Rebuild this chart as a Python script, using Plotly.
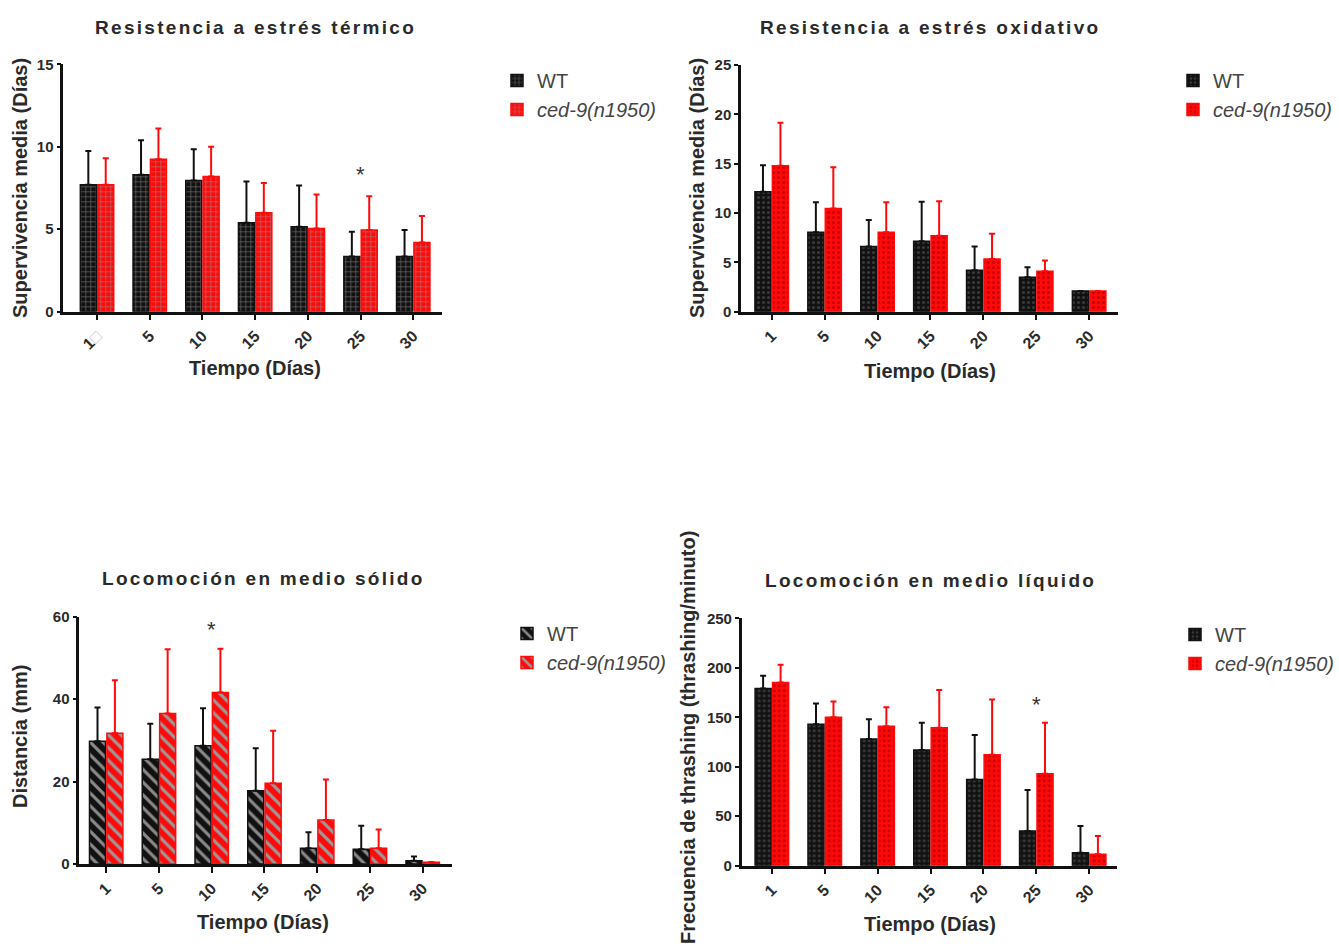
import plotly.graph_objects as go

W, H = 1339, 947

dias = ["1", "5", "10", "15", "20", "25", "30"]
dias_termico = ["1<span style='color:#c8c8c8'>\u25a1</span>", "5", "10", "15", "20", "25", "30"]

# Resistencia a estrés térmico (media, DE)
termico_wt = [7.7, 8.3, 7.95, 5.4, 5.15, 3.35, 3.35]
termico_wt_de = [2.05, 2.1, 1.9, 2.5, 2.5, 1.5, 1.6]
termico_ced9 = [7.7, 9.25, 8.2, 6.0, 5.05, 4.95, 4.2]
termico_ced9_de = [1.6, 1.85, 1.8, 1.8, 2.05, 2.05, 1.6]

# Resistencia a estrés oxidativo
oxid_wt = [12.15, 8.05, 6.6, 7.15, 4.2, 3.5, 2.1]
oxid_wt_de = [2.7, 3.05, 2.7, 4.0, 2.4, 1.0, 0.0]
oxid_ced9 = [14.8, 10.45, 8.05, 7.7, 5.35, 4.1, 2.1]
oxid_ced9_de = [4.35, 4.2, 3.05, 3.5, 2.55, 1.1, 0.0]

# Locomoción en medio sólido (mm)
solido_wt = [29.8, 25.4, 28.7, 17.8, 3.8, 3.6, 0.8]
solido_wt_de = [8.2, 8.6, 9.1, 10.3, 3.9, 5.7, 1.0]
solido_ced9 = [31.7, 36.5, 41.6, 19.6, 10.7, 3.8, 0.4]
solido_ced9_de = [12.9, 15.6, 10.6, 12.7, 9.8, 4.6, 0.1]

# Locomoción en medio líquido (thrashing/minuto)
liquido_wt = [179, 143, 128, 117, 87, 35, 13]
liquido_wt_de = [13, 21, 20, 27.5, 45, 41.5, 27]
liquido_ced9 = [185, 150, 141, 139.5, 112, 93, 11.5]
liquido_ced9_de = [18, 16, 19, 38, 56, 51.5, 18.5]

# Significancia (*): categoría y altura
sig_termico = ("25", 8.3)
sig_solido = ("10", 57)
sig_liquido = ("25", 163)

NEGRO = "#111111"
ROJO = "#ff0a0a"
TXT = "#2a2a2a"
FONT = "Liberation Sans"


def px_x(v):
    return v / W


def px_y(v):
    return 1 - v / H


def espaciado(txt, sp=2.3):
    return f"<span style='letter-spacing:{sp}px'>{txt}</span>"


paneles = [
    dict(n="", cats=dias_termico, wt=termico_wt, wt_de=termico_wt_de, ced=termico_ced9, ced_de=termico_ced9_de,
         xdom=[63.3, 441.7], ybot=311.7, ytop=64.3, ymax=15, dtick=5, xr=[-0.64, 6.54],
         pat=dict(shape="+", size=5, solidity=0.25), fg_wt="#6a6a6a", fg_ced="#b07070",
         titulo="Resistencia a estrés térmico", tx=255, ty=27,
         ytit="Supervivencia media (Días)", ytx=20, yty=188, xtx=255, xty=368,
         leg=(497, 61)),
    dict(n="2", cats=dias, wt=oxid_wt, wt_de=oxid_wt_de, ced=oxid_ced9, ced_de=oxid_ced9_de,
         xdom=[741.0, 1117.7], ybot=311.7, ytop=65.0, ymax=25, dtick=5, xr=[-0.58, 6.54],
         pat=dict(shape=".", size=5, solidity=0.3), fg_wt="#3a3a3a", fg_ced="#c80000",
         titulo="Resistencia a estrés oxidativo", tx=930, ty=27,
         ytit="Supervivencia media (Días)", ytx=697, yty=188, xtx=930, xty=371,
         leg=(1173, 61)),
    dict(n="3", cats=dias, wt=solido_wt, wt_de=solido_wt_de, ced=solido_ced9, ced_de=solido_ced9_de,
         xdom=[79.3, 451.7], ybot=864.0, ytop=616.7, ymax=60, dtick=20, xr=[-0.51, 6.55],
         pat=dict(shape="\\", size=9, solidity=0.35), fg_wt="#8a8a8a", fg_ced="#9a9a9a",
         titulo="Locomoción en medio sólido", tx=263, ty=578,
         ytit="Distancia (mm)", ytx=20, yty=737, xtx=263, xty=922,
         leg=(507, 614)),
    dict(n="4", cats=dias, wt=liquido_wt, wt_de=liquido_wt_de, ced=liquido_ced9, ced_de=liquido_ced9_de,
         xdom=[741.7, 1116.7], ybot=865.7, ytop=618.3, ymax=250, dtick=50, xr=[-0.57, 6.52],
         pat=dict(shape=".", size=5, solidity=0.3), fg_wt="#3a3a3a", fg_ced="#c80000",
         titulo="Locomoción en medio líquido", tx=930, ty=580,
         ytit="Frecuencia de thrashing (thrashing/minuto)", ytx=688, yty=738, xtx=930, xty=924,
         leg=(1175, 615)),
]

fig = go.Figure()
layout = dict(
    width=W, height=H, margin=dict(l=0, r=0, t=0, b=0, autoexpand=False),
    paper_bgcolor="white", plot_bgcolor="white",
    barmode="group", bargap=0.34, bargroupgap=0.08,
    font=dict(family=FONT, color=TXT),
    annotations=[],
)

for p in paneles:
    n = p["n"]
    xa, ya = "x" + n, "y" + n
    leg = "legend" + n
    fig.add_trace(go.Bar(
        x=p["cats"], y=p["wt"], name="WT", xaxis=xa, yaxis=ya, legend=leg, legendgroup="wt" + n,
        marker=dict(color=NEGRO, line=dict(color=NEGRO, width=1.5),
                    pattern=dict(bgcolor=NEGRO, fgcolor=p["fg_wt"], fillmode="replace", **p["pat"])),
        error_y=dict(type="data", symmetric=False, array=p["wt_de"], arrayminus=[0] * 7,
                     color=NEGRO, thickness=2, width=3),
    ))
    fig.add_trace(go.Bar(
        x=p["cats"], y=p["ced"], name="<i>ced-9(n1950)</i>", xaxis=xa, yaxis=ya, legend=leg,
        legendgroup="ced" + n,
        marker=dict(color=ROJO, line=dict(color=ROJO, width=1.5),
                    pattern=dict(bgcolor=ROJO, fgcolor=p["fg_ced"], fillmode="replace", **p["pat"])),
        error_y=dict(type="data", symmetric=False, array=p["ced_de"], arrayminus=[0] * 7,
                     color=ROJO, thickness=2, width=3),
    ))

    xkey = "xaxis" + n
    ykey = "yaxis" + n
    layout[xkey] = dict(
        domain=[px_x(p["xdom"][0]), px_x(p["xdom"][1])], anchor=ya, automargin=False,
        type="category", range=p["xr"], showline=True, linecolor="#111", linewidth=2.5,
        ticks="outside", ticklen=6, tickwidth=2, tickcolor="#111",
        tickangle=-45, showgrid=False, zeroline=False,
        tickfont=dict(family=FONT, size=16, weight="bold", color=TXT),
    )
    layout[ykey] = dict(
        domain=[px_y(p["ybot"]), px_y(p["ytop"])], anchor=xa, automargin=False,
        range=[0, p["ymax"]], dtick=p["dtick"], tick0=0,
        showline=True, linecolor="#111", linewidth=2.5,
        ticks="outside", ticklen=4, tickwidth=2, tickcolor="#111",
        showgrid=False, zeroline=False,
        tickfont=dict(family=FONT, size=15, weight="bold", color=TXT),
    )
    layout[leg] = dict(
        x=px_x(p["leg"][0]), y=px_y(p["leg"][1]), xanchor="left", yanchor="top",
        bgcolor="rgba(0,0,0,0)", font=dict(family=FONT, size=20, color="#444"),
        itemwidth=30, tracegroupgap=0,
    )

    anns = layout["annotations"]
    anns.append(dict(text=espaciado(p["titulo"]), x=px_x(p["tx"]), y=px_y(p["ty"]), xref="paper", yref="paper",
                     showarrow=False, xanchor="center", yanchor="middle",
                     font=dict(family=FONT, size=19, weight="bold", color=TXT)))
    anns.append(dict(text=p["ytit"], x=px_x(p["ytx"]), y=px_y(p["yty"]), xref="paper", yref="paper",
                     showarrow=False, xanchor="center", yanchor="middle", textangle=-90,
                     font=dict(family=FONT, size=20, weight="bold", color=TXT)))
    anns.append(dict(text="Tiempo (Días)", x=px_x(p["xtx"]), y=px_y(p["xty"]), xref="paper", yref="paper",
                     showarrow=False, xanchor="center", yanchor="middle",
                     font=dict(family=FONT, size=20, weight="bold", color=TXT)))

# Asteriscos de significancia (posición por índice de categoría)
for n, (cat, yv) in [("", sig_termico), ("3", sig_solido), ("4", sig_liquido)]:
    layout["annotations"].append(dict(
        text="*", x=dias.index(cat), y=yv, xref="x" + n, yref="y" + n, showarrow=False,
        xanchor="center", yanchor="middle", font=dict(family=FONT, size=22, color="#333")))

fig.update_layout(**layout)
fig.write_html("out.html")
